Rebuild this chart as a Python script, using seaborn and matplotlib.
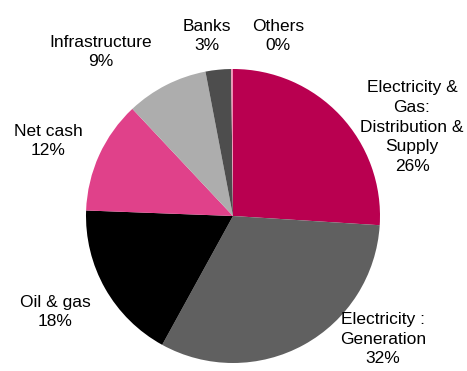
import matplotlib
matplotlib.use("Agg")
import matplotlib.pyplot as plt
import seaborn as sns
from matplotlib import font_manager

sectors = ["Electricity &\nGas:\nDistribution &\nSupply", "Electricity :\nGeneration",
           "Oil & gas", "Net cash", "Infrastructure", "Banks", "Others"]
shares = [26.0, 32.0, 17.6, 12.4, 9.0, 2.8, 0.2]
pct_labels = ["26%", "32%", "18%", "12%", "9%", "3%", "0%"]
colors = ["#B90050", "#606060", "#000000", "#E0418A", "#ADADAD", "#4D4D4D", "#F090B5"]

sns.set_style("white")
names = {f.name for f in font_manager.fontManager.ttflist}
fam = ["Liberation Sans Narrow", "Liberation Sans", "DejaVu Sans"]
fam = [f for f in fam if f in names] or ["DejaVu Sans"]
plt.rcParams["font.family"] = fam

W, H = 467, 371
fig = plt.figure(figsize=(W / 100, H / 100), dpi=100)
fig.patch.set_facecolor("white")
cx, cy, r = 233, 216, 147
ax = fig.add_axes([(cx - r) / W, (H - cy - r) / H, 2 * r / W, 2 * r / H])
ax.pie(shares, colors=colors, startangle=90, counterclock=False,
       wedgeprops=dict(linewidth=0), radius=1.0)
ax.set_xlim(-1, 1)
ax.set_ylim(-1, 1)
ax.set_aspect("equal")
ax.axis("off")

# label centres in pixel coordinates (layout)
label_pos = [(412, 127), (383, 339), (55, 312), (48, 141), (101, 52), (207, 36), (278, 36)]
for name, pct, (px, py) in zip(sectors, pct_labels, label_pos):
    fig.text(px / W, 1 - py / H, f"{name}\n{pct}", ha="center", va="center",
             fontsize=12.5, color="black", linespacing=1.38)

fig.savefig("out.png", dpi=100, facecolor="white")
